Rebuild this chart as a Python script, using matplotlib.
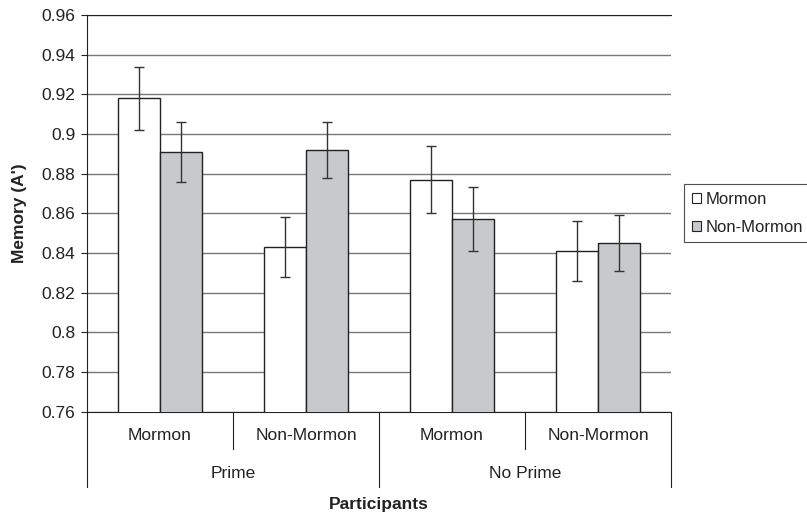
import matplotlib
matplotlib.use("Agg")
import matplotlib.pyplot as plt
from matplotlib.patches import Patch
import numpy as np

plt.rcParams['font.family'] = ['Liberation Sans', 'DejaVu Sans']

categories = ["Mormon", "Non-Mormon", "Mormon", "Non-Mormon"]
groups = ["Prime", "No Prime"]
series_names = ["Mormon", "Non-Mormon"]
mormon_vals = [0.918, 0.843, 0.877, 0.841]
nonmormon_vals = [0.891, 0.892, 0.857, 0.845]
mormon_err = [0.016, 0.015, 0.017, 0.015]
nonmormon_err = [0.015, 0.014, 0.016, 0.014]
yticks = [0.76, 0.78, 0.8, 0.82, 0.84, 0.86, 0.88, 0.9, 0.92, 0.94, 0.96]

FS = 12.5
W, H = 807, 514
L, R, T, B = 87, 671, 15, 411.5
fig = plt.figure(figsize=(W/100, H/100), dpi=100)
ax = fig.add_axes([L/W, 1-B/H, (R-L)/W, (B-T)/H])
ah = B - T

x = np.arange(len(categories))
w = 0.29
ax.bar(x - w/2, mormon_vals, w, color='white', edgecolor='#222222', linewidth=1.0, zorder=3)
ax.bar(x + w/2, nonmormon_vals, w, color='#c8c9cb', edgecolor='#222222', linewidth=1.0, zorder=3)
ax.errorbar(x - w/2, mormon_vals, yerr=mormon_err, fmt='none', ecolor='#333333',
            elinewidth=1.0, capsize=3.5, capthick=1.0, zorder=4)
ax.errorbar(x + w/2, nonmormon_vals, yerr=nonmormon_err, fmt='none', ecolor='#333333',
            elinewidth=1.0, capsize=3.5, capthick=1.0, zorder=4)

ax.set_xlim(-0.5, 3.5)
ax.set_ylim(0.76, 0.96)
ax.set_yticks(yticks)
ax.set_yticklabels([f"{t:g}" for t in yticks], fontsize=FS, color='#222222')
ax.yaxis.grid(True, color='#777777', linewidth=1.0, zorder=0)
ax.set_axisbelow(True)
ax.spines['right'].set_visible(False)
ax.spines['top'].set_color('#222222')
ax.spines['left'].set_color('#222222')
ax.spines['bottom'].set_color('#222222')
ax.tick_params(axis='y', length=4.5, width=0.8, color='#222222', pad=4)
ax.set_xticks([])
ax.set_ylabel("Memory (A')", fontsize=FS, fontweight='bold', labelpad=10, color='#222222')

trans = ax.get_xaxis_transform()
short = -(449 - B)/ah
long_ = -(487 - B)/ah
for b in [0.5, 2.5]:
    ax.plot([b, b], [0, short], transform=trans, color='#222222', lw=0.8, clip_on=False)
for b in [-0.5, 1.5, 3.5]:
    ax.plot([b, b], [0, long_], transform=trans, color='#222222', lw=0.8, clip_on=False)
for xi, lab in zip(x, categories):
    ax.text(xi, -(436 - B)/ah, lab, transform=trans, ha='center', va='center',
            fontsize=FS, color='#222222')
for gi, g in enumerate(groups):
    ax.text(0.5 + 2*gi, -(473 - B)/ah, g, transform=trans, ha='center', va='center',
            fontsize=FS, color='#222222')
fig.text(0.5*(L+R)/W, 1-505/H, "Participants", ha='center', va='center',
         fontsize=FS, fontweight='bold', color='#222222')

handles = [Patch(facecolor='white', edgecolor='#222222', linewidth=0.8),
           Patch(facecolor='#c8c9cb', edgecolor='#222222', linewidth=0.8)]
leg = fig.legend(handles, series_names, loc='upper left',
                 bbox_to_anchor=(684/W, 1-184/H), fontsize=12,
                 handlelength=0.55, handleheight=0.55, handletextpad=0.3,
                 borderpad=0.45, borderaxespad=0, labelspacing=0.8, fancybox=False)
leg.get_frame().set_edgecolor('#222222')
leg.get_frame().set_linewidth(0.8)
for t in leg.get_texts():
    t.set_color('#222222')

fig.savefig("out.png", dpi=100)
